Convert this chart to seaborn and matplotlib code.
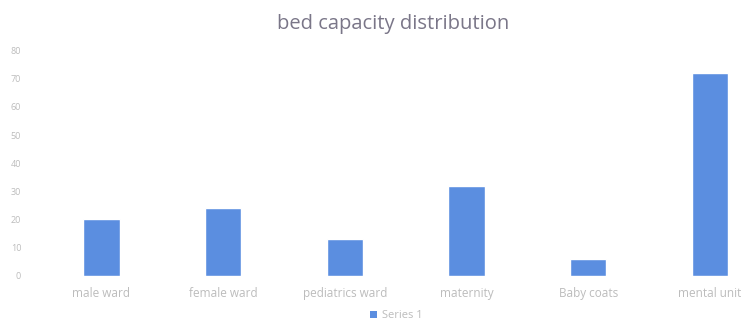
import matplotlib
matplotlib.use("Agg")
import matplotlib.pyplot as plt
import seaborn as sns
import pandas as pd
from matplotlib.patches import Patch

categories = ["male ward", "female ward", "pediatrics ward", "maternity", "Baby coats", "mental unit"]
values = [20, 24, 13, 32, 6, 72]
series_name = "Series 1"
y_ticks = [0, 10, 20, 30, 40, 50, 60, 70, 80]

df = pd.DataFrame({"category": categories, "beds": values})

sns.set_theme(style="white")
plt.rcParams["font.family"] = ["Open Sans", "DejaVu Sans"]

bar_color = "#5b8ee0"
text_color = "#bcbcbc"

fig = plt.figure(figsize=(7.48, 3.22), dpi=100)
ax = fig.add_axes([0.0543, 0.1438, 0.976, 0.699])
sns.barplot(data=df, x="category", y="beds", color=bar_color, width=0.30,
            saturation=1, ax=ax, order=categories)

ax.set_ylim(0, 80)
ax.set_yticks(y_ticks)
ax.set_xlim(-0.5, len(categories) - 0.5)
ax.set_xlabel("")
ax.set_ylabel("")
for s in ax.spines.values():
    s.set_visible(False)
ax.tick_params(axis="y", length=0, labelsize=6.5, labelcolor=text_color, pad=14)
ax.tick_params(axis="x", length=0, labelsize=8.5, labelcolor=text_color, pad=8)

fig.text(0.526, 0.925, "bed capacity distribution", ha="center", va="center",
         fontsize=14.5, color="#7a7688")

handle = Patch(facecolor=bar_color, edgecolor="none")
fig.legend([handle], [series_name], loc="center", bbox_to_anchor=(0.53, 0.02),
           frameon=False, fontsize=8, labelcolor=text_color,
           handlelength=0.6, handleheight=0.6, handletextpad=0.5,
           borderpad=0.1)

fig.savefig("out.png", dpi=100)
